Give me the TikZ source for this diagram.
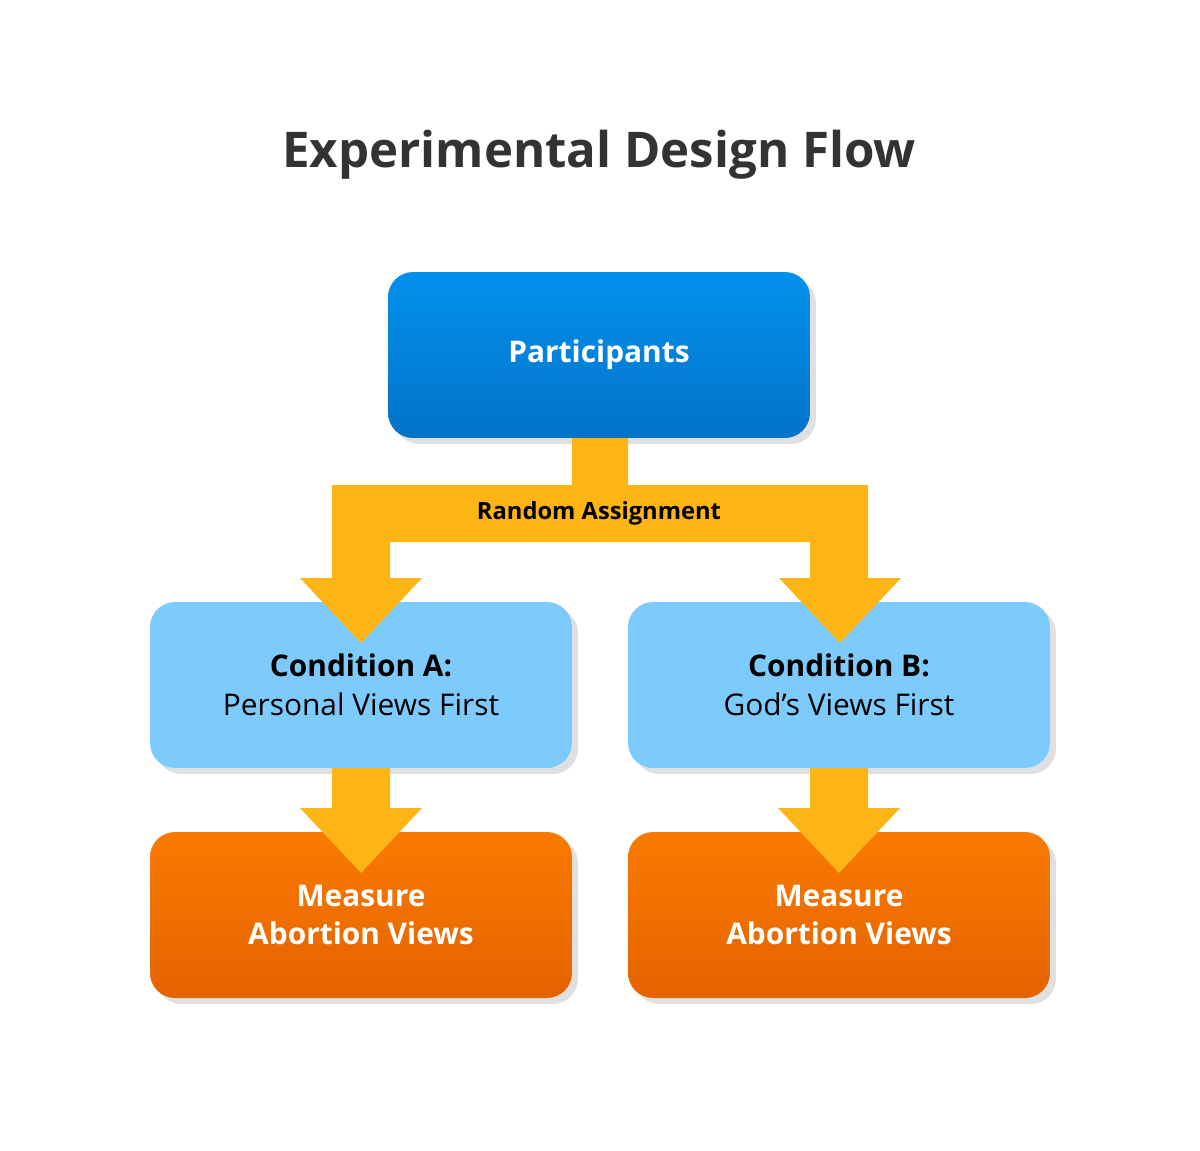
\documentclass[tikz,border=0pt]{standalone}
\usepackage{fontspec}
\setmainfont{Open Sans}
\usetikzlibrary{shadows}
\definecolor{blueTop}{HTML}{0391EE}
\definecolor{blueBot}{HTML}{0373C8}
\definecolor{lightBlue}{HTML}{7DCBFD}
\definecolor{orangeTop}{HTML}{F97A00}
\definecolor{orangeBot}{HTML}{E56300}
\definecolor{flowYellow}{HTML}{FDB515}
\definecolor{titleGray}{HTML}{333333}
\tikzset{
  box/.style={rounded corners=0.5cm, minimum width=8.44cm, minimum height=3.32cm,
    align=center, font=\fontsize{17}{22}\selectfont,
    drop shadow={shadow xshift=0.12cm, shadow yshift=-0.12cm, opacity=0.12, fill=black}},
  flow/.style={fill=flowYellow}
}
\begin{document}
\begin{tikzpicture}[x=0.02cm,y=-0.02cm]
\useasboundingbox (0,0) rectangle (1200,1150);

\node[text=titleGray, font=\fontsize{28}{34}\selectfont\bfseries] (title) at (599,155) {Experimental Design Flow};

% boxes
\node[box, top color=blueTop, bottom color=blueBot, text=white, font=\fontsize{17}{22}\selectfont\bfseries] (part) at (599,355) {Participants};
\node[box, fill=lightBlue] (condA) at (361,685) {\textbf{Condition A:}\\Personal Views First};
\node[box, fill=lightBlue] (condB) at (839,685) {\textbf{Condition B:}\\God’s Views First};
\node[box, top color=orangeTop, bottom color=orangeBot, text=white, font=\fontsize{17}{22}\selectfont\bfseries] (measA) at (361,915) {Measure\\Abortion Views};
\node[box, top color=orangeTop, bottom color=orangeBot, text=white, font=\fontsize{17}{22}\selectfont\bfseries] (measB) at (839,915) {Measure\\Abortion Views};

% random assignment arrows
\fill[flow] (572,438) -- (628,438) -- (628,485) -- (868,485) -- (868,578) -- (901,578)
  -- (840,643) -- (779,578) -- (810,578) -- (810,542) -- (390,542) -- (390,578)
  -- (422,578) -- (361,643) -- (300,578) -- (332,578) -- (332,485) -- (572,485) -- cycle;
\node[font=\fontsize{13.5}{16}\selectfont\bfseries] (rand) at (599,513) {Random Assignment};

% lower arrows
\foreach \cx in {361,839}{
  \fill[flow] (\cx-29,768) -- (\cx+29,768) -- (\cx+29,808) -- (\cx+61,808)
    -- (\cx,873) -- (\cx-61,808) -- (\cx-29,808) -- cycle;
}
\end{tikzpicture}
\end{document}
